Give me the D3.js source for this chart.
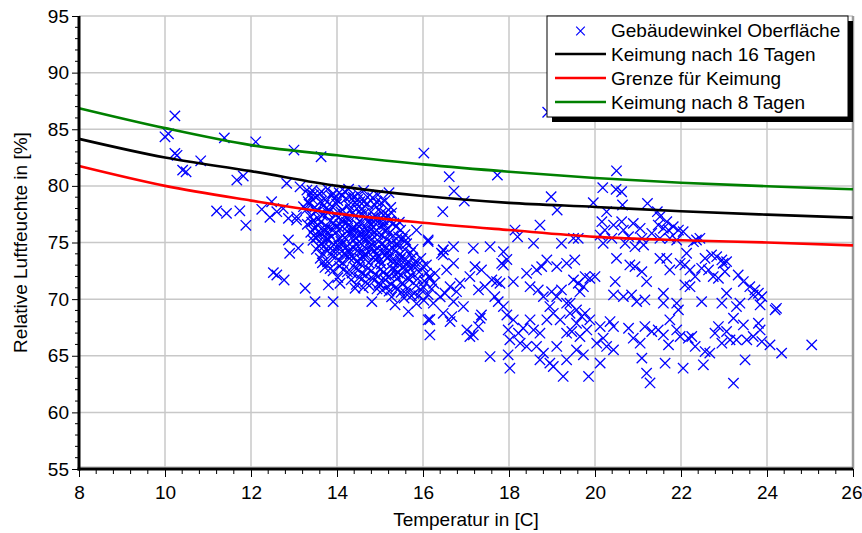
<!DOCTYPE html>
<html><head><meta charset="utf-8">
<script src="https://cdn.jsdelivr.net/npm/d3@7"></script>
<style>
html,body{margin:0;padding:0;background:#fff;}
svg{display:block;font-family:"Liberation Sans",Arial,sans-serif;}
</style></head>
<body><svg id="chart" width="862" height="533"></svg>
<script>
// ---------- data ----------
const curveTemps = [8,10,12,14,16,18,20,22,24,26];
const keimung16 = [84.15,82.5,81.3,80.0,79.1,78.5,78.14,77.76,77.46,77.2];
const grenze    = [81.75,80.0,78.7,77.55,76.75,76.1,75.5,75.2,75.0,74.75];
const keimung8  = [86.86,85.1,83.6,82.7,81.9,81.25,80.7,80.27,79.97,79.7];
const xTicks = [8,10,12,14,16,18,20,22,24,26];
const yTicks = [55,60,65,70,75,80,85,90,95];
const legendLabels = ["Gebäudewinkel Oberfläche","Keimung nach 16 Tagen","Grenze für Keimung","Keimung nach 8 Tagen"];
const xTitle = "Temperatur in [C]";
const yTitle = "Relative Luftfeuchte in [%]";

// measured surface points [temperature, humidity]
const surfacePoints = [
// left sparse
[10.23,86.18],[10.0,84.33],[10.08,84.6],[10.23,82.87],[10.28,82.7],[10.41,81.39],[10.49,81.24],[10.83,82.21],
[11.38,84.24],[12.11,83.89],[13.0,83.16],[13.63,82.57],[11.67,80.51],[11.82,80.87],[11.2,77.78],[11.43,77.57],
[11.74,77.8],[11.88,76.52],[12.25,77.93],[12.44,77.22],[12.48,78.6],[12.6,77.72],[12.75,78.0],[12.87,77.13],[13.06,77.27],
[12.87,75.22],[12.9,74.05],[13.1,74.5],[12.52,72.34],[12.6,72.13],[12.77,71.69],[13.26,70.96],[12.83,80.22],[13.14,79.92],
[13.3,79.63],[13.49,69.78],[13.8,71.25],[13.91,69.78],[14.07,71.4],[14.42,70.96],[14.81,69.78],[15.0,71.25],[15.35,69.5],
[15.66,68.9],[15.85,69.6],[16.16,68.2],[16.47,68.75],[14.92,78.6],[14.30,79.04],[14.53,78.6],[13.6,79.34],[13.72,78.75],
[13.91,79.34],[14.11,79.19],[15.12,77.57],[15.85,76.1],[16.12,75.22],[16.47,74.34],[16.47,73.9],[16.46,77.72],[16.61,80.81],
[13.45,79.19],[13.33,78.6],[13.22,78.16],[13.06,76.98],
// upper middle sparse
[16.02,82.9],[16.72,79.54],[16.96,78.66],[17.73,80.95],[18.98,79.04],[19.12,77.87],[18.9,86.5],[18.2,75.5],[17.87,73.0],
// dense core
[13.42,79.6],[13.55,79.1],[13.78,79.7],[13.95,78.9],[14.18,79.5],[14.38,79.0],[14.62,79.6],[14.83,78.95],[15.21,79.4],
[13.35,78.4],[13.62,78.6],[13.88,78.2],[14.02,78.7],[14.27,78.3],[14.48,78.8],[14.71,78.4],[15.03,78.5],[15.25,78.1],
[13.28,77.9],[13.51,77.7],[13.74,78.0],[13.96,77.5],[14.12,77.9],[14.36,77.6],[14.58,78.0],[14.79,77.7],[14.97,77.9],[15.18,77.4],
[13.38,77.3],[13.57,77.1],[13.69,77.5],[13.84,76.9],[14.03,77.2],[14.22,76.8],[14.41,77.3],[14.53,76.9],[14.68,77.2],[14.86,76.8],[15.07,77.0],[15.32,76.7],
[13.31,76.6],[13.47,76.3],[13.62,76.8],[13.77,76.4],[13.92,76.7],[14.08,76.2],[14.26,76.5],[14.33,76.0],[14.47,76.6],[14.63,76.3],[14.77,76.6],[14.92,76.1],[15.02,76.5],[15.16,76.2],[15.37,76.4],
[13.39,75.9],[13.54,75.6],[13.71,75.9],[13.87,75.5],[13.98,75.9],[14.14,75.6],[14.29,75.8],[14.44,75.4],[14.58,75.8],[14.71,75.5],[14.88,75.9],[15.04,75.6],[15.21,75.8],[15.43,75.5],[15.58,75.7],
[13.44,75.2],[13.63,74.9],[13.79,75.3],[13.93,74.8],[14.09,75.1],[14.24,74.7],[14.39,75.2],[14.56,74.9],[14.69,75.2],[14.82,74.8],[14.97,75.1],[15.12,74.7],[15.27,75.0],[15.41,74.7],[15.62,74.9],
[13.52,74.4],[13.67,74.0],[13.84,74.5],[14.01,74.2],[14.19,74.5],[14.31,74.0],[14.48,74.3],[14.63,73.9],[14.78,74.4],[14.92,74.0],[15.08,74.3],[15.23,73.9],[15.36,74.2],[15.52,73.8],[15.71,74.1],
[13.61,73.6],[13.78,73.3],[13.96,73.7],[14.13,73.2],[14.29,73.6],[14.46,73.3],[14.61,73.7],[14.74,73.2],[14.89,73.5],[15.03,73.1],[15.17,73.6],[15.31,73.2],[15.47,73.5],[15.64,73.1],[15.82,73.3],
[13.72,72.8],[13.91,72.5],[14.06,72.9],[14.24,72.4],[14.41,72.8],[14.57,72.3],[14.72,72.7],[14.88,72.2],[15.01,72.6],[15.14,72.1],[15.28,72.7],[15.42,72.3],[15.58,72.6],[15.73,72.1],[15.91,72.4],
[14.02,71.9],[14.33,71.7],[14.52,71.9],[14.67,71.5],[14.83,71.8],[14.98,71.4],[15.12,71.7],[15.26,71.3],[15.39,71.8],[15.53,71.4],[15.68,71.7],[15.84,71.2],[16.03,71.6],
[14.61,71.0],[14.93,70.9],[15.21,70.7],[15.36,71.0],[15.49,70.6],[15.63,70.9],[15.79,70.5],[15.96,70.8],[16.12,70.4],
[15.27,70.2],[15.56,70.1],[15.73,70.3],[16.02,69.9],
[13.48,78.1],[13.66,77.4],[13.82,77.8],[14.07,76.6],[14.17,77.3],[14.31,77.9],[14.44,76.2],[14.55,77.5],[14.66,75.9],[14.74,76.0],
[14.9,77.3],[15.1,76.6],[13.58,76.0],[13.76,75.3],[13.86,76.2],[14.04,74.7],[14.21,75.3],[14.36,74.6],[14.5,75.6],[14.64,74.6],
[14.81,75.3],[14.95,74.5],[15.15,75.3],[15.3,74.5],[15.45,73.9],[15.55,72.9],[15.7,72.7],[15.35,72.6],[14.97,73.7],[14.53,73.6],
[14.16,74.0],[13.7,74.7],[13.52,75.4],[13.46,76.9],[15.48,76.1],[15.6,75.2],[15.75,73.7],[15.85,72.9],[16.0,72.9],[16.15,72.0],[16.25,71.4],
[13.36,79.2],[13.64,79.5],[13.87,79.1],[14.05,79.4],[14.27,79.7],[14.49,79.3],[14.71,79.0],[14.95,79.2],
[13.43,78.8],[13.7,78.3],[13.99,78.4],[14.21,78.9],[14.42,78.5],[14.62,78.6],[14.88,78.3],[15.12,78.7],
[13.53,77.9],[13.79,77.6],[14.09,77.7],[14.25,77.1],[14.46,78.0],[14.64,77.6],[14.84,77.2],[15.03,77.6],[15.27,77.6],
[13.41,76.8],[13.56,76.5],[13.72,76.1],[13.97,76.4],[14.13,76.9],[14.36,76.3],[14.52,76.4],[14.73,76.9],[14.97,76.9],[15.22,76.9],[15.45,76.8],
[13.46,75.6],[13.66,75.4],[13.82,75.8],[14.06,75.4],[14.23,76.0],[14.39,75.6],[14.61,75.4],[14.79,76.1],[14.94,75.7],[15.11,76.0],[15.31,75.6],[15.52,75.3],
[13.58,74.7],[13.74,74.4],[13.9,74.3],[14.11,74.8],[14.28,74.3],[14.45,74.8],[14.59,74.2],[14.76,74.7],[14.87,74.3],[15.04,74.8],[15.2,74.3],[15.39,74.9],[15.58,74.4],[15.77,74.4],
[13.66,73.2],[13.86,73.9],[14.04,73.4],[14.22,73.9],[14.38,73.6],[14.55,73.1],[14.69,73.9],[14.84,73.7],[15.0,73.4],[15.13,73.9],[15.29,73.5],[15.42,73.1],[15.6,73.5],[15.78,72.9],[15.95,73.6],
[13.84,72.7],[14.15,72.6],[14.35,72.3],[14.5,72.6],[14.66,72.1],[14.8,72.5],[14.95,72.0],[15.09,72.4],[15.22,72.0],[15.36,72.2],[15.5,72.1],[15.65,71.9],[15.88,71.8],[16.08,72.3],
[14.45,71.3],[14.75,71.2],[15.05,70.8],[15.17,71.1],[15.42,70.9],[15.6,70.5],[15.9,70.3],[16.2,70.9],
// 16 - 19.4
[18.14,76.1],[18.72,76.54],[18.57,74.93],[19.22,74.93],[16.12,75.08],
[16.47,74.34],[16.43,74.05],[16.71,74.63],[17.17,74.49],[17.56,74.63],[17.87,74.19],
[16.08,73.02],[16.28,72.28],[16.16,71.84],[16.0,71.1],
[16.55,72.58],[16.71,73.16],[16.63,71.1],[16.51,70.52],[16.78,70.66],[16.86,71.4],[16.4,70.2],[16.24,69.64],[16.71,69.78],[16.94,69.34],
[16.12,68.17],[16.16,66.84],[16.63,68.02],[16.67,68.46],
[17.02,67.28],[17.17,66.84],[17.09,66.7],[17.29,67.58],[17.33,68.31],[17.36,68.6],
[17.21,72.87],[17.36,72.58],[17.09,71.99],[17.29,70.81],[17.44,71.1],[17.6,71.7],[17.71,71.55],[17.79,71.4],[17.67,70.22],[17.75,69.78],[17.87,69.34],
[17.83,73.16],[18.1,71.55],[17.95,73.5],
[17.56,64.93],[17.98,65.08],[18.02,63.9],
[17.95,68.6],[18.1,68.17],[17.98,67.28],[18.22,66.99],[18.02,66.4],[18.26,66.11],[18.33,67.43],[18.41,65.82],[18.49,68.17],
[18.41,72.28],[18.64,72.58],[18.76,72.87],[18.88,73.46],[19.11,72.87],[19.34,73.16],
[18.49,71.1],[18.68,70.81],[18.8,70.22],[18.99,70.66],[19.11,70.22],[19.22,70.81],[19.34,69.64],[18.95,69.34],[19.03,68.75],[19.19,68.17],[18.88,68.17],[19.42,68.75],
[18.64,65.82],[18.8,65.23],[18.95,64.35],[19.03,64.05],[19.26,63.17],[19.34,64.64],[18.72,64.64],[19.11,65.82],
[18.57,67.28],[18.72,66.99],[19.34,66.99],
// 19.4 - 22.2
[20.5,81.33],[20.18,79.84],[20.49,79.69],[20.62,79.48],[19.96,78.51],[21.22,78.45],[20.64,78.31],
[20.27,77.72],[21.45,77.72],[21.51,77.28],[21.67,76.84],
[20.16,76.84],[20.23,76.1],[20.12,75.66],[20.19,74.93],[20.39,75.37],[20.43,76.54],[20.62,76.84],[20.66,76.1],[20.78,75.52],[20.89,76.69],
[21.05,76.25],[21.09,75.37],[21.13,74.78],[21.32,75.81],[20.93,74.63],[20.7,74.93],
[21.47,76.54],[21.59,76.25],[21.71,76.1],[21.82,76.4],[21.94,76.1],[22.05,75.96],[21.51,75.37],[21.74,75.37],[21.9,75.22],
[19.5,75.37],[19.61,75.37],[19.53,73.46],
[20.5,73.6],[20.81,73.02],[20.93,72.87],[21.09,72.43],[21.2,71.55],[21.51,73.6],[21.67,73.6],[21.98,73.16],[22.09,73.02],
[22.13,74.05],[21.74,72.58],
[19.5,71.7],[19.61,71.4],[19.77,71.99],[19.88,71.84],[20.0,71.99],[19.73,71.1],[19.65,70.66],
[20.47,71.55],[20.43,70.37],[20.66,70.22],[20.85,70.37],[20.97,69.78],[21.16,69.93],[21.59,70.52],[21.59,69.64],[21.9,69.64],[21.94,69.05],[22.09,71.25],[22.21,71.1],
[19.42,69.64],[19.57,69.05],[19.69,68.46],[19.77,68.75],[19.88,68.17],[19.57,67.87],[19.46,67.14],[19.65,66.7],[19.81,67.28],[20.12,67.58],
[20.35,68.02],[20.43,67.58],[20.19,66.55],[20.04,66.11],[20.27,65.82],[20.43,65.52],
[20.78,67.43],[20.89,66.55],[21.05,66.11],[21.16,67.58],[21.32,67.14],[21.47,67.28],[21.59,66.84],[21.71,65.96],[21.74,68.17],[21.9,67.28],
[21.98,66.7],[22.17,66.55],
[19.57,65.52],[19.73,65.08],[19.85,63.17],[20.12,64.35],[21.09,64.79],[21.2,63.46],[21.28,62.6],[21.63,64.34],[22.05,63.9],
// right
[22.44,75.37],[22.29,75.07],[22.36,75.22],
[22.56,73.6],[22.71,73.9],[22.83,73.75],[22.95,73.46],[22.98,73.16],[23.06,73.31],[22.48,72.72],[22.64,72.58],[22.75,71.99],[22.87,71.84],[23.02,72.43],[22.21,72.58],[22.33,71.99],
[23.33,72.13],[23.45,71.55],[23.6,71.1],[23.72,70.81],[23.8,70.52],[23.88,70.22],[23.68,70.37],[23.37,69.64],[23.29,69.34],[23.84,69.49],[24.19,69.05],[24.22,69.19],[23.06,70.52],[22.95,69.64],[22.48,69.78],
[23.22,68.31],[23.45,67.72],[23.8,67.87],[23.84,67.28],[22.79,66.99],[22.87,67.58],[23.06,67.14],[23.14,66.4],[22.95,66.11],[23.29,66.4],[23.53,66.4],[23.68,66.7],[23.88,66.25],[24.07,65.96],[24.34,65.23],[25.04,65.96],
[22.56,65.37],[22.67,65.23],[22.33,65.82],[22.25,66.7],[22.52,64.2],[23.49,64.64],[23.22,62.58]
];

// ---------- layout ----------
const svg = d3.select("#chart");
const X0 = 79, X1 = 853, Y0 = 16, Y1 = 469;
const x = d3.scaleLinear().domain([8,26]).range([X0,X1]);
const y = d3.scaleLinear().domain([55,95]).range([Y1,Y0]);
const FS = 19;

// grid
const grid = svg.append("g").attr("stroke","#c8c8c8").attr("stroke-width",1.5);
xTicks.forEach(t => { if (t>8 && t<26) grid.append("line").attr("x1",x(t)).attr("x2",x(t)).attr("y1",Y0).attr("y2",Y1); });
yTicks.forEach(t => { if (t>55) grid.append("line").attr("x1",X0).attr("x2",X1).attr("y1",y(t)).attr("y2",y(t)); });
grid.append("line").attr("x1",X0).attr("x2",X1).attr("y1",Y1-2).attr("y2",Y1-2);
// right border
svg.append("line").attr("x1",X1).attr("x2",X1).attr("y1",Y0).attr("y2",Y1)
  .attr("stroke","#9a9a9a").attr("stroke-width",2.5);

// points
const cross = d3.symbol().type(d3.symbolX).size(72);
svg.append("g").selectAll("path").data(surfacePoints).join("path")
  .attr("transform", d => `translate(${x(d[0])},${y(d[1])})`)
  .attr("d", cross)
  .attr("fill","none").attr("stroke","#0000ff").attr("stroke-width",1.3);

// lines
const line = d3.line().x((d,i)=>x(curveTemps[i])).y(d=>y(d)).curve(d3.curveMonotoneX);
[[keimung16,"#000000"],[grenze,"#ff0000"],[keimung8,"#008000"]].forEach(([s,c]) => {
  svg.append("path").attr("d", line(s)).attr("fill","none").attr("stroke",c).attr("stroke-width",2.6);
});

// axes
const xAxis = d3.axisBottom(x).tickValues(xTicks).tickSize(8).tickPadding(9).tickFormat(d3.format("d"));
const gx = svg.append("g").attr("transform",`translate(0,${Y1})`).call(xAxis);
const minorX = d3.range(8,26.01,0.4).filter(v => Math.abs(v/2-Math.round(v/2))>1e-6);
gx.selectAll(".minor").data(minorX).join("line").attr("class","minor")
  .attr("x1",d=>x(d)).attr("x2",d=>x(d)).attr("y1",0).attr("y2",5).attr("stroke","#000").attr("stroke-width",1);
const yAxis = d3.axisLeft(y).tickValues(yTicks).tickSize(7).tickPadding(3).tickFormat(d3.format("d"));
const gy = svg.append("g").attr("transform",`translate(${X0},0)`).call(yAxis);
const minorY = d3.range(55,95,1).filter(v => v%5!==0);
gy.selectAll(".minor").data(minorY).join("line").attr("class","minor")
  .attr("x1",-4).attr("x2",0).attr("y1",d=>y(d)).attr("y2",d=>y(d)).attr("stroke","#000").attr("stroke-width",1);
[gx,gy].forEach(g => {
  g.select(".domain").remove();
  g.selectAll("text").attr("font-size",FS).attr("font-family","Liberation Sans, Arial, sans-serif").attr("fill","#000");
  g.selectAll(".tick line").attr("stroke","#000").attr("stroke-width",1);
});
// keep the last x label inside the window
gx.selectAll(".tick text").filter(d => d===26).attr("text-anchor","end").attr("x",9);
svg.append("line").attr("x1",X0).attr("x2",X0).attr("y1",Y0).attr("y2",Y1+1.5).attr("stroke","#000").attr("stroke-width",3);
svg.append("line").attr("x1",X0-1.5).attr("x2",X1).attr("y1",Y1).attr("y2",Y1).attr("stroke","#000").attr("stroke-width",3);

// titles
svg.append("text").attr("x",(X0+X1)/2).attr("y",526).attr("text-anchor","middle").attr("font-size",FS).text(xTitle);
svg.append("text").attr("transform",`translate(27,${(Y0+Y1)/2}) rotate(-90)`).attr("text-anchor","middle").attr("font-size",FS).text(yTitle);

// legend
const L = {x:547, y:16, w:301, h:101};
const lg = svg.append("g");
lg.append("rect").attr("x",L.x+5).attr("y",L.y+5).attr("width",L.w).attr("height",L.h).attr("fill","#000");
lg.append("rect").attr("x",L.x).attr("y",L.y).attr("width",L.w).attr("height",L.h).attr("fill","#fff").attr("stroke","#000").attr("stroke-width",1);
const legendColors = ["#0000ff","#000000","#ff0000","#008000"];
legendLabels.forEach((lab,i) => {
  const by = 37 + i*24;
  if (i===0) {
    lg.append("path").attr("transform",`translate(580.5,${by-6})`).attr("d",d3.symbol().type(d3.symbolX).size(50))
      .attr("fill","none").attr("stroke",legendColors[0]).attr("stroke-width",1.2);
  } else {
    lg.append("line").attr("x1",555).attr("x2",606).attr("y1",by-7).attr("y2",by-7).attr("stroke",legendColors[i]).attr("stroke-width",2.6);
  }
  lg.append("text").attr("x",611).attr("y",by).attr("font-size",FS).text(lab);
});
</script></body></html>
